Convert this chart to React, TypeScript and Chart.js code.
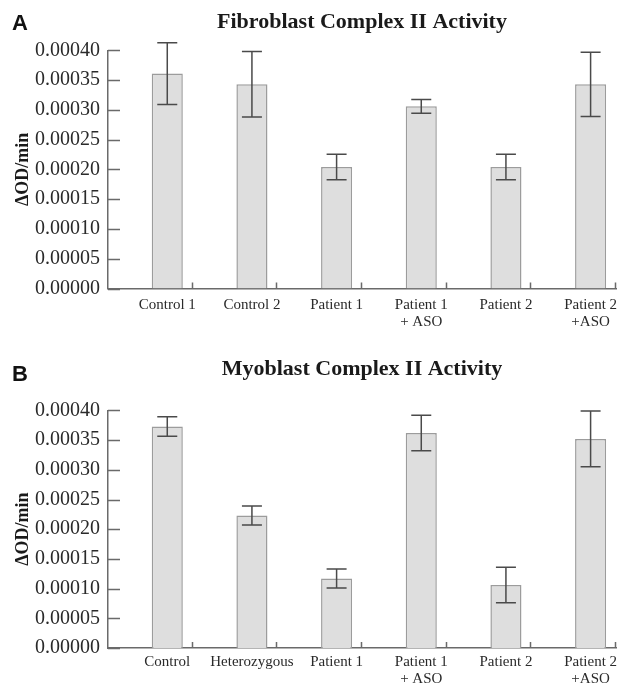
import React, { useEffect, useRef } from "react";
import { Chart, registerables } from "chart.js";

Chart.register(...registerables);

// ---------- data ----------
const fibroCategories: string[][] = [
  ["Control 1"],
  ["Control 2"],
  ["Patient 1"],
  ["Patient 1", "+ ASO"],
  ["Patient 2"],
  ["Patient 2", "+ASO"],
];
const fibroValues = [0.000361, 0.000343, 0.000204, 0.000306, 0.000204, 0.000343];
const fibroErrors = [0.000052, 0.000055, 0.0000215, 0.0000115, 0.0000215, 0.000054];

const myoCategories: string[][] = [
  ["Control"],
  ["Heterozygous"],
  ["Patient 1"],
  ["Patient 1", "+ ASO"],
  ["Patient 2"],
  ["Patient 2", "+ASO"],
];
const myoValues = [0.000373, 0.000223, 0.000117, 0.000362, 0.000106, 0.000352];
const myoErrors = [0.0000165, 0.000016, 0.000016, 0.00003, 0.00003, 0.000047];

const yTickValues = [0, 0.00005, 0.0001, 0.00015, 0.0002, 0.00025, 0.0003, 0.00035, 0.0004];
// category boundary tick marks on the x axis (in category units)
const xBoundaryTicks = [0.3, 1.3, 2.3, 3.3, 4.3, 5.3];

const SERIF = "'Liberation Serif', 'Times New Roman', serif";
const AXIS_COLOR = "#6a6a6a";

type PanelProps = {
  title: string;
  categories: string[][];
  values: number[];
  errors: number[];
  height: number;
  titlePadTop: number;
  titlePadBottom: number;
  xAxisHeight: number;
  xLabelPad: number;
};

function Panel(props: PanelProps) {
  const ref = useRef<HTMLCanvasElement | null>(null);
  useEffect(() => {
    if (!ref.current) return;
    const { categories, values, errors } = props;

    const errorBars = {
      id: "errorBars",
      afterDatasetsDraw(chart: any) {
        const ctx = chart.ctx;
        const xs = chart.scales.x;
        const ys = chart.scales.y;
        ctx.save();
        ctx.strokeStyle = "#4a4a4a";
        ctx.lineWidth = 1.5;
        values.forEach((v, i) => {
          const x = xs.getPixelForValue(i);
          const yt = ys.getPixelForValue(v + errors[i]);
          const yb = ys.getPixelForValue(v - errors[i]);
          ctx.beginPath();
          ctx.moveTo(x, yt);
          ctx.lineTo(x, yb);
          ctx.moveTo(x - 10, yt);
          ctx.lineTo(x + 10, yt);
          ctx.moveTo(x - 10, yb);
          ctx.lineTo(x + 10, yb);
          ctx.stroke();
        });
        ctx.restore();
      },
    };

    const innerTicks = {
      id: "innerTicks",
      afterDraw(chart: any) {
        const ctx = chart.ctx;
        const xs = chart.scales.x;
        const ys = chart.scales.y;
        const area = chart.chartArea;
        ctx.save();
        ctx.strokeStyle = AXIS_COLOR;
        ctx.lineWidth = 1.5;
        ctx.beginPath();
        yTickValues.forEach((t) => {
          const y = Math.round(ys.getPixelForValue(t)) + 0.5;
          ctx.moveTo(area.left, y);
          ctx.lineTo(area.left + 12, y);
        });
        xBoundaryTicks.forEach((t) => {
          const x = Math.round(xs.getPixelForValue(t)) - 0.5;
          ctx.moveTo(x, area.bottom);
          ctx.lineTo(x, area.bottom - 6);
        });
        ctx.stroke();
        ctx.restore();
      },
    };

    const chart = new Chart(ref.current, {
      type: "bar",
      data: {
        datasets: [
          {
            data: values.map((v, i) => ({ x: i, y: v })),
            backgroundColor: "#dedede",
            borderColor: "#9c9c9c",
            borderWidth: 1.5,
            categoryPercentage: 1,
            barPercentage: 0.367,
          } as any,
        ],
      },
      options: {
        animation: false,
        responsive: false,
        maintainAspectRatio: false,
        layout: { padding: { left: 0, right: 4, top: 0, bottom: 0 } },
        plugins: {
          legend: { display: false },
          tooltip: { enabled: false },
          title: {
            display: true,
            text: props.title,
            fullSize: false,
            color: "#1a1a1a",
            font: { family: SERIF, size: 22, weight: "bold", lineHeight: 1.2 },
            padding: { top: props.titlePadTop, bottom: props.titlePadBottom },
          },
        },
        scales: {
          x: {
            type: "linear",
            min: -0.7,
            max: 5.3,
            offset: false,
            afterBuildTicks: (scale: any) => {
              scale.ticks = categories.map((_, i) => ({ value: i }));
            },
            afterFit: (scale: any) => {
              scale.height = props.xAxisHeight;
              scale.paddingLeft = 0;
              scale.paddingRight = 0;
            },
            grid: { display: false, drawTicks: false },
            border: { display: true, color: AXIS_COLOR, width: 1.5 },
            ticks: {
              autoSkip: false,
              maxRotation: 0,
              padding: props.xLabelPad,
              color: "#2a2a2a",
              font: { family: SERIF, size: 15, lineHeight: 1.15 },
              callback: (v: any) => categories[Math.round(Number(v))] ?? "",
            },
          },
          y: {
            min: 0,
            max: 0.0004,
            afterBuildTicks: (scale: any) => {
              scale.ticks = yTickValues.map((v) => ({ value: v }));
            },
            afterFit: (scale: any) => {
              scale.width = 108;
            },
            grid: { display: false, drawTicks: false },
            border: { display: true, color: AXIS_COLOR, width: 1.5 },
            ticks: {
              padding: 8,
              color: "#2a2a2a",
              font: { family: SERIF, size: 20 },
              callback: (v: any) => Number(v).toFixed(5),
            },
            title: {
              display: true,
              text: "ΔOD/min",
              color: "#1a1a1a",
              font: { family: SERIF, size: 18, weight: "bold", lineHeight: 1.2 },
              padding: { top: 13, bottom: 0 },
            },
          },
        },
      },
      plugins: [errorBars, innerTicks],
    } as any);
    return () => chart.destroy();
  }, []);
  return <canvas ref={ref} width={620} height={props.height} style={{ display: "block", width: 620, height: props.height }} />;
}

const letterStyle: React.CSSProperties = {
  position: "absolute",
  left: 12,
  fontFamily: "'Liberation Sans', Arial, sans-serif",
  fontWeight: "bold",
  fontSize: 22,
  lineHeight: "22px",
  color: "#111",
};

export default function App() {
  return (
    <div style={{ position: "absolute", left: 0, top: 0, width: 620, height: 684, background: "#fff", overflow: "hidden" }}>
      <div style={{ position: "absolute", left: 0, top: 0 }}>
        <Panel
          title="Fibroblast Complex II Activity"
          categories={fibroCategories}
          values={fibroValues}
          errors={fibroErrors}
          height={340}
          titlePadTop={9}
          titlePadBottom={15}
          xAxisHeight={51.5}
          xLabelPad={8}
        />
      </div>
      <div style={{ position: "absolute", left: 0, top: 340 }}>
        <Panel
          title="Myoblast Complex II Activity"
          categories={myoCategories}
          values={myoValues}
          errors={myoErrors}
          height={344}
          titlePadTop={16}
          titlePadBottom={28}
          xAxisHeight={36}
          xLabelPad={5}
        />
      </div>
      <div style={{ ...letterStyle, top: 12 }}>A</div>
      <div style={{ ...letterStyle, top: 363 }}>B</div>
    </div>
  );
}
